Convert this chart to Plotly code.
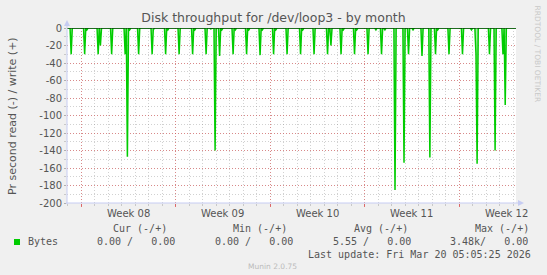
import pandas as pd
import plotly.graph_objects as go

# ---------------- data ----------------
title_text = "Disk throughput for /dev/loop3 - by month"
y_title = "Pr second read (-) / write (+)"
x_start = "2026-02-14 22:35"
x_end = "2026-03-20 05:10"

week_starts = ["2026-02-16", "2026-02-23", "2026-03-02", "2026-03-09", "2026-03-16"]
week_labels = ["Week 08", "Week 09", "Week 10", "Week 11", "Week 12"]

y_tick_vals = [-200, -180, -160, -140, -120, -100, -80, -60, -40, -20, 0]
y_tick_text = ["-200", "-180", "-160", "-140", "-120", "-100", "-80", "-60", "-40", "-20", "0"]

# read (-) spikes, 2-hour consolidated samples (all other samples are 0)
event_times = [
    "2026-02-15 06:00", "2026-02-16 06:00", "2026-02-16 10:00", "2026-02-17 06:00",
    "2026-02-17 10:00", "2026-02-18 06:00", "2026-02-19 06:00", "2026-02-19 10:00",
    "2026-02-19 14:00", "2026-02-20 06:00", "2026-02-21 06:00", "2026-02-21 08:00",
    "2026-02-22 06:00", "2026-02-22 10:00", "2026-02-23 06:00", "2026-02-24 06:00",
    "2026-02-24 10:00", "2026-02-25 06:00", "2026-02-25 14:00", "2026-02-25 22:00",
    "2026-02-26 06:00", "2026-02-26 10:00", "2026-02-27 06:00", "2026-02-27 10:00",
    "2026-02-28 06:00", "2026-02-28 10:00", "2026-03-01 06:00", "2026-03-01 10:00",
    "2026-03-02 06:00", "2026-03-02 10:00", "2026-03-03 06:00", "2026-03-04 06:00",
    "2026-03-04 10:00", "2026-03-05 06:00", "2026-03-06 06:00", "2026-03-06 12:00",
    "2026-03-07 06:00", "2026-03-07 10:00", "2026-03-08 06:00", "2026-03-08 10:00",
    "2026-03-09 06:00", "2026-03-09 20:00", "2026-03-10 06:00", "2026-03-10 12:00",
    "2026-03-11 06:00", "2026-03-11 22:00", "2026-03-12 06:00", "2026-03-12 14:00",
    "2026-03-13 06:00", "2026-03-13 20:00", "2026-03-14 06:00", "2026-03-14 10:00",
    "2026-03-15 06:00", "2026-03-16 06:00", "2026-03-16 22:00", "2026-03-17 06:00",
    "2026-03-17 08:00", "2026-03-18 06:00", "2026-03-18 16:00", "2026-03-19 06:00",
    "2026-03-19 10:00",
]
event_values = [
    -30, -30, -2, -30,
    -20, -30, -30, -147,
    -2, -30, -30, -2,
    -30, -2, -30, -30,
    -2, -30, -1, -140,
    -32, -2, -30, -2,
    -30, -2, -31, -2,
    -30, -2, -30, -30,
    -2, -30, -30, -20,
    -30, -2, -30, -2,
    -30, -2, -30, -2,
    -185, -154, -30, -2,
    -32, -148, -30, -2,
    -30, -30, -2, -30,
    -155, -30, -140, -30,
    -88,
]

legend_name = "Bytes"
col_headers = ["Cur (-/+)", "Min (-/+)", "Avg (-/+)", "Max (-/+)"]
col_values = ["0.00 /   0.00", "0.00 /   0.00", "5.55 /   0.00", "3.48k/   0.00"]
last_update = "Last update: Fri Mar 20 05:05:25 2026"
footer = "Munin 2.0.75"
side_text = "RRDTOOL / TOBI OETIKER"

# ---------------- build series on the 2h RRD grid ----------------
grid = pd.date_range("2026-02-14 22:00", "2026-03-20 06:00", freq="2h")
series = pd.Series(0.0, index=grid)
for t, v in zip(event_times, event_values):
    series[pd.Timestamp(t)] = v

# ---------------- layout geometry (pixels) ----------------
W, H = 547, 275
L, R, T, B = 67, 516, 28, 203
PW, PH = R - L, B - T


def px(x):
    return (x - L) / PW


def py(y):
    return (B - y) / PH


GREEN = "#00CC00"
FONT = "#555555"
AXIS = "#C6CCF2"
MGRID = "rgba(222,79,79,0.55)"
GRID = "rgba(140,140,140,0.40)"

fig = go.Figure()
fig.add_trace(go.Scatter(
    x=series.index, y=series.values, mode="lines",
    line=dict(color=GREEN, width=1.5), fill="tozeroy",
    fillcolor="rgba(90,220,90,0.55)", hoverinfo="skip", showlegend=False,
))

fig.update_layout(
    width=W, height=H,
    margin=dict(l=L, r=W - R, t=T, b=H - B),
    paper_bgcolor="#F0F0F0", plot_bgcolor="#FFFFFF",
    font=dict(family="DejaVu Sans", size=10, color=FONT),
    title=dict(text=title_text, x=(W / 2 - L) / PW, xref="paper", xanchor="center",
               y=1 - 18 / H, yref="container", yanchor="middle",
               font=dict(family="DejaVu Sans", size=12.5, color=FONT)),
    showlegend=False,
)

fig.update_xaxes(
    type="date", range=[x_start, x_end],
    tickmode="array", tickvals=week_starts, ticktext=[""] * len(week_starts),
    showgrid=True, gridcolor=MGRID, griddash="1px,2px", gridwidth=1,
    ticks="outside", ticklen=3, tickcolor="rgba(222,79,79,0.8)",
    showline=False, zeroline=False,
    minor=dict(tickmode="linear", tick0="2026-02-15", dtick=86400000,
               showgrid=True, gridcolor=GRID, griddash="1px,2px",
               ticks="outside", ticklen=2, tickcolor=GRID),
)
fig.update_yaxes(
    range=[-200, 0], tickmode="array", tickvals=y_tick_vals, ticktext=y_tick_text,
    showgrid=True, gridcolor=MGRID, griddash="1px,2px", gridwidth=1,
    ticks="outside", ticklen=2, tickcolor=GRID,
    tickfont=dict(family="DejaVu Sans", size=10, color=FONT),
    showline=False, zeroline=False,
    minor=dict(tickmode="linear", tick0=0, dtick=10, showgrid=True,
               gridcolor=GRID, griddash="1px,2px", ticks="outside",
               ticklen=2, tickcolor=GRID),
)

shapes = []
# zero rule (black)
shapes.append(dict(type="line", xref="paper", yref="y", x0=0, x1=1, y0=0, y1=0,
                   line=dict(color="#000000", width=1), layer="above"))
# axes with arrows
shapes.append(dict(type="line", xref="paper", yref="paper", x0=0, x1=0,
                   y0=py(B + 1), y1=py(24), line=dict(color=AXIS, width=1), layer="above"))
shapes.append(dict(type="path", xref="paper", yref="paper",
                   path=f"M {px(64)} {py(26)} L {px(67)} {py(20)} L {px(70)} {py(26)} Z",
                   fillcolor=AXIS, line=dict(color=AXIS, width=0), layer="above"))
shapes.append(dict(type="line", xref="paper", yref="paper", x0=px(L - 1), x1=px(520),
                   y0=0, y1=0, line=dict(color=AXIS, width=1), layer="above"))
shapes.append(dict(type="path", xref="paper", yref="paper",
                   path=f"M {px(518)} {py(200)} L {px(524)} {py(203)} L {px(518)} {py(206)} Z",
                   fillcolor=AXIS, line=dict(color=AXIS, width=0), layer="above"))
# legend colour box
shapes.append(dict(type="rect", xref="paper", yref="paper",
                   x0=px(14), x1=px(20), y0=py(245), y1=py(239),
                   fillcolor=GREEN, line=dict(color=GREEN, width=0)))
fig.update_layout(shapes=shapes)

ann = []
# week labels at week centres
for ws, lab in zip(week_starts, week_labels):
    mid = pd.Timestamp(ws) + pd.Timedelta(hours=84)
    ann.append(dict(x=mid, xref="x", y=py(213.5), yref="paper", text=lab,
                    showarrow=False, xanchor="center", yanchor="middle",
                    font=dict(family="DejaVu Sans", size=10, color=FONT)))
# y title
ann.append(dict(x=px(12), y=py(116), xref="paper", yref="paper", text=y_title,
                textangle=-90, showarrow=False, xanchor="center", yanchor="middle",
                font=dict(family="DejaVu Sans", size=11, color=FONT)))
mono = dict(family="DejaVu Sans Mono", size=10, color=FONT)
nb = lambda s: s.replace(" ", "\u00a0")
header_x = [111, 231, 352, 473]
value_x = [95, 213, 331, 448]
for hx, h in zip(header_x, col_headers):
    ann.append(dict(x=px(hx), y=py(228.6), xref="paper", yref="paper", text=nb(h),
                    showarrow=False, xanchor="left", yanchor="middle", font=mono))
ann.append(dict(x=px(26), y=py(241.8), xref="paper", yref="paper", text=legend_name,
                showarrow=False, xanchor="left", yanchor="middle", font=mono))
for vx, v in zip(value_x, col_values):
    ann.append(dict(x=px(vx), y=py(241.8), xref="paper", yref="paper", text=nb(v),
                    showarrow=False, xanchor="left", yanchor="middle", font=mono))
ann.append(dict(x=px(533), y=py(254.3), xref="paper", yref="paper", text=nb(last_update),
                showarrow=False, xanchor="right", yanchor="middle", font=mono))
ann.append(dict(x=px(272.5), y=py(266.8), xref="paper", yref="paper", text=footer,
                showarrow=False, xanchor="center", yanchor="middle",
                font=dict(family="DejaVu Sans", size=7.5, color="#BBBBBB")))
ann.append(dict(x=px(537.5), y=py(54), xref="paper", yref="paper", text=side_text,
                textangle=90, showarrow=False, xanchor="center", yanchor="middle",
                font=dict(family="DejaVu Sans", size=7.5, color="#C8C8C8")))
fig.update_layout(annotations=ann)

fig.write_html("out.html")
